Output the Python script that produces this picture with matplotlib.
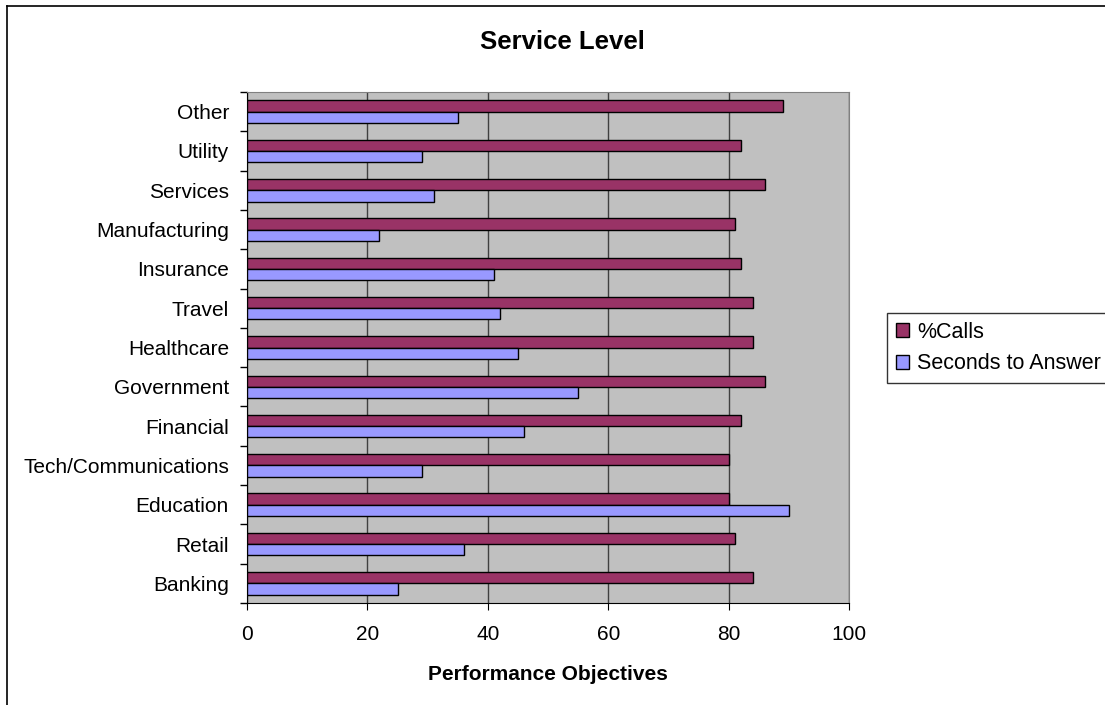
import matplotlib.pyplot as plt
import numpy as np
from matplotlib.lines import Line2D

plt.rcParams['font.family'] = ['Liberation Sans', 'DejaVu Sans']

# Kategorien von unten nach oben
categories = ['Banking', 'Retail', 'Education', 'Tech/Communications', 'Financial',
              'Government', 'Healthcare', 'Travel', 'Insurance', 'Manufacturing',
              'Services', 'Utility', 'Other']
pct_calls = [84, 81, 80, 80, 82, 86, 84, 84, 82, 81, 86, 82, 89]
seconds_to_answer = [25, 36, 90, 29, 46, 55, 45, 42, 41, 22, 31, 29, 35]

W, H = 1105, 705
fig = plt.figure(figsize=(W / 100, H / 100), dpi=100)
ax = fig.add_axes([247 / W, 1 - 603 / H, (849 - 247) / W, (603 - 92) / H])

y = np.arange(len(categories))
h = 0.286
ax.barh(y + h / 2, pct_calls, height=h, color='#993366', edgecolor='black',
        linewidth=1, label='%Calls', zorder=3)
ax.barh(y - h / 2, seconds_to_answer, height=h, color='#9999FF', edgecolor='black',
        linewidth=1, label='Seconds to Answer', zorder=3)

ax.set_facecolor('#C0C0C0')
ax.set_xlim(0, 100)
ax.set_ylim(-0.5, len(categories) - 0.5)
ax.set_xticks([0, 20, 40, 60, 80, 100])
ax.xaxis.grid(True, color='#404040', linewidth=1, zorder=1)
ax.set_axisbelow(True)

# Y-Ticks zwischen den Kategorien, Beschriftungen in der Mitte
ax.set_yticks(np.arange(-0.5, len(categories), 1))
ax.set_yticklabels([])
ax.set_yticks(y, minor=True)
ax.set_yticklabels(categories, minor=True)
ax.tick_params(axis='y', which='minor', length=0, pad=13, labelsize=15)
ax.tick_params(axis='y', which='major', length=5, direction='out', width=1)
ax.tick_params(axis='x', length=5, direction='out', pad=11, labelsize=15)

for side in ['top', 'right']:
    ax.spines[side].set_color('#808080')
for side in ['left', 'bottom']:
    ax.spines[side].set_color('black')

ax.set_xlabel('Performance Objectives', fontsize=15, fontweight='bold', labelpad=15)
fig.text(562 / W, 1 - 42 / H, 'Service Level', ha='center', va='center',
         fontsize=18.5, fontweight='bold')

leg = fig.legend(loc='upper left', bbox_to_anchor=(887 / W, 1 - 313 / H),
                 frameon=True, fancybox=False, edgecolor='black', fontsize=15.5,
                 handlelength=0.6, handleheight=0.6, handletextpad=0.4,
                 borderpad=0.4, labelspacing=0.5, borderaxespad=0)
leg.get_frame().set_linewidth(1)

# Rahmen links und oben
fig.add_artist(Line2D([6.5 / W, 6.5 / W], [0, 1 - 6 / H], transform=fig.transFigure,
                      color='black', linewidth=1.2))
fig.add_artist(Line2D([6.5 / W, 1], [1 - 6 / H, 1 - 6 / H], transform=fig.transFigure,
                      color='black', linewidth=1.2))

fig.savefig('out.png', dpi=100)
